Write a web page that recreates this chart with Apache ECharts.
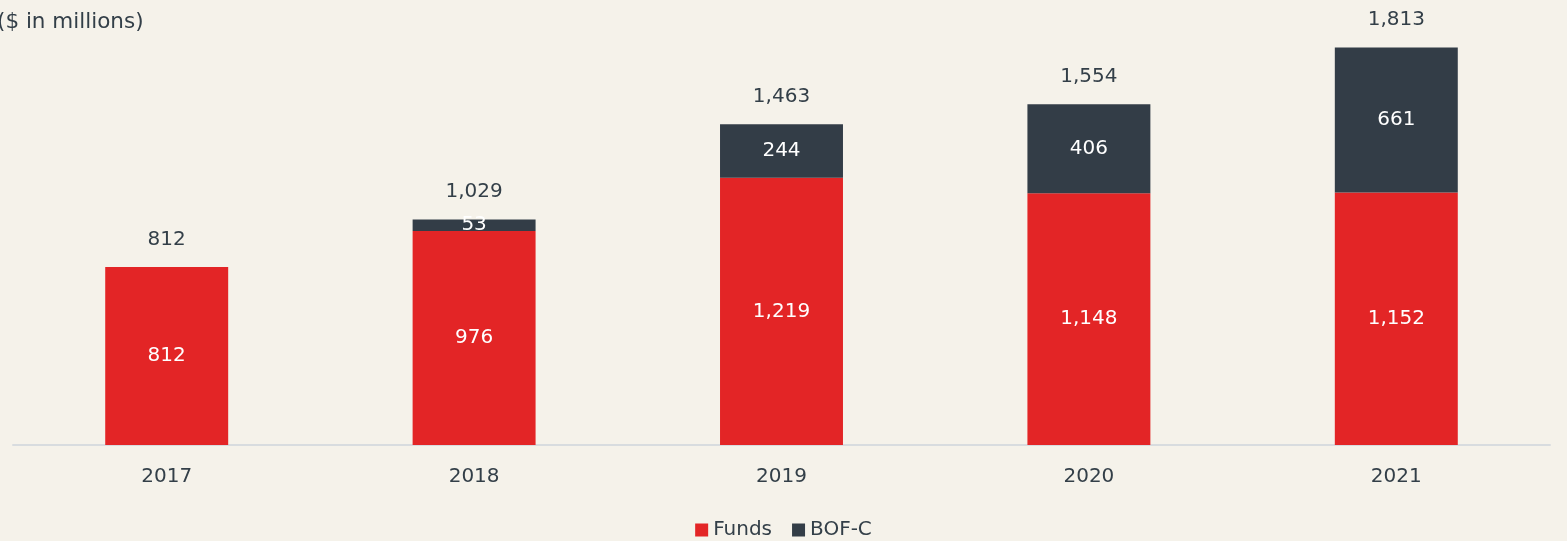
<!DOCTYPE html>
<html><head><meta charset="utf-8">
<script src="https://cdn.jsdelivr.net/npm/echarts@6/dist/echarts.min.js"></script>
<style>html,body{margin:0;padding:0;background:#f5f2ea;}#c{width:1567px;height:541px;}</style>
</head><body><div id="c"></div>
<script>
const categories = ['2017','2018','2019','2020','2021'];
const funds = [812, 976, 1219, 1148, 1152];
const bofc = [null, 53, 244, 406, 661];
const totals = [812, 1029, 1463, 1554, 1813];
const unitLabel = '($ in millions)';

const font = 'DejaVu Sans';
const chart = echarts.init(document.getElementById('c'));
const fmt = v => Number(v).toLocaleString('en-US');
chart.setOption({
  backgroundColor: '#f5f2ea',
  animation: false,
  textStyle: { fontFamily: font },
  grid: { left: 13, right: 17, top: 6.6, bottom: 96 },
  graphic: [{ type: 'text', left: -3, top: 11, style: { text: unitLabel, font: '21.5px "DejaVu Sans"', fill: '#333f48' } }],
  legend: {
    bottom: -4, icon: 'rect', itemWidth: 13, itemHeight: 13, itemGap: 20,
    textStyle: { fontSize: 20, color: '#333f48', fontFamily: font },
    data: ['Funds', 'BOF-C']
  },
  xAxis: {
    type: 'category', data: categories,
    axisLine: { lineStyle: { color: '#d8dcdf', width: 2 } },
    axisTick: { show: false },
    axisLabel: { fontSize: 20, color: '#333f48', margin: 22, fontFamily: font }
  },
  yAxis: { type: 'value', min: 0, max: 2000, show: false, splitLine: { show: false } },
  series: [
    { name: 'Funds', type: 'bar', stack: 's', data: funds, barWidth: '40%',
      itemStyle: { color: '#e32526' },
      label: { show: true, position: 'inside', color: '#fff', fontSize: 20, fontFamily: font, formatter: p => fmt(p.value) } },
    { name: 'BOF-C', type: 'bar', stack: 's', data: bofc, barWidth: '40%',
      itemStyle: { color: '#333d47' },
      label: { show: true, position: 'inside', color: '#fff', fontSize: 20, fontFamily: font, formatter: p => fmt(p.value) } },
    { name: 'Total', type: 'scatter', data: totals, symbolSize: 1, itemStyle: { color: 'rgba(0,0,0,0)', opacity: 1 },
      silent: true, z: 10,
      label: { show: true, position: 'top', distance: 17, color: '#333f48', fontSize: 20, fontFamily: font, formatter: p => fmt(p.value) } }
  ]
});
</script></body></html>
